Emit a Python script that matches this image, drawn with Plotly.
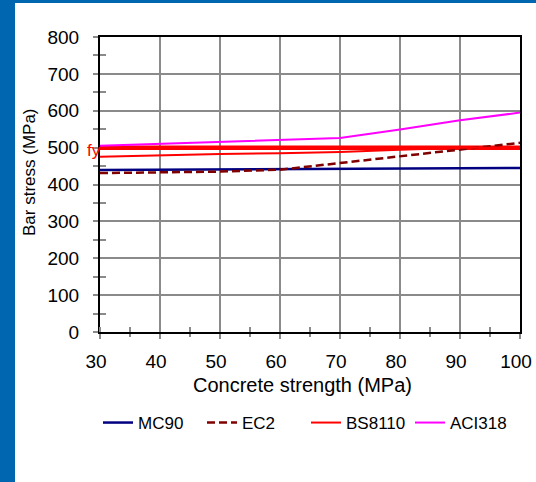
import plotly.graph_objects as go

# Concrete strength (MPa) and the limiting bar stress (MPa) from each code
strength = [30, 40, 50, 60, 70, 80, 90, 100]
mc90 = [439, 440, 441, 442, 444, 445, 445, 445]
ec2 = [431, 433, 435, 440, 458, 478, 494, 513]
bs8110 = [475, 480, 483, 485, 488, 494, 500, 500]
aci318 = [505, 510, 514, 519, 526, 549, 574, 595]
fy = 500  # characteristic yield strength of the bar

x_ticks = [30, 40, 50, 60, 70, 80, 90, 100]
y_ticks = [0, 100, 200, 300, 400, 500, 600, 700, 800]

FONT = "Liberation Sans, Arial, sans-serif"
FRAME_BLUE = "#0066B0"
GRID = "#8a8a8a"

# plot-area geometry in pixels (used to place free text)
W, H = 536, 482
ML, MR, MT, MB = 100, 16, 37, 150
PW, PH = W - ML - MR, H - MT - MB


def px_x(px):
    return (px - ML) / PW


def px_y(py):
    return (H - MB - py) / PH


fig = go.Figure()

fig.add_trace(go.Scatter(x=[strength[0], strength[-1]], y=[fy, fy], mode="lines",
                         line=dict(color="#ff0000", width=4.5), showlegend=False,
                         hoverinfo="skip"))
fig.add_trace(go.Scatter(x=strength, y=mc90, mode="lines", name="MC90",
                         line=dict(color="#000080", width=2.5)))
fig.add_trace(go.Scatter(x=strength, y=ec2, mode="lines", name="EC2",
                         line=dict(color="#800000", width=2.5, dash="8px,4px")))
fig.add_trace(go.Scatter(x=strength, y=bs8110, mode="lines", name="BS8110",
                         line=dict(color="#ff0000", width=2)))
fig.add_trace(go.Scatter(x=strength, y=aci318, mode="lines", name="ACI318",
                         line=dict(color="#ff00ff", width=2)))
# empty trace that carries the overlay axes used for inward tick marks
fig.add_trace(go.Scatter(x=[], y=[], xaxis="x2", yaxis="y2", showlegend=False,
                         hoverinfo="skip"))

tick_style = dict(tickcolor=GRID, tickwidth=2)

fig.update_layout(
    width=W, height=H,
    margin=dict(l=ML, r=MR, t=MT, b=MB, autoexpand=False),
    paper_bgcolor=FRAME_BLUE,
    plot_bgcolor="white",
    font=dict(family=FONT, color="black"),
    xaxis=dict(range=[30, 100], tickvals=x_ticks, showgrid=True, gridcolor=GRID,
               gridwidth=1.5, zeroline=False, showline=True, linecolor="black",
               linewidth=2, mirror=True, ticks="outside", ticklen=5,
               tickfont=dict(size=19), ticklabelshift=-4, ticklabelstandoff=6,
               minor=dict(ticks="outside", ticklen=3, dtick=5, tick0=0,
                          showgrid=False, **tick_style),
               **tick_style),
    yaxis=dict(range=[0, 800], tickvals=y_ticks, showgrid=True, gridcolor=GRID,
               gridwidth=1.5, zeroline=False, showline=True, linecolor="black",
               linewidth=2, mirror=True, ticks="outside", ticklen=5,
               tickfont=dict(size=19), ticklabelstandoff=10,
               minor=dict(ticks="outside", ticklen=5, dtick=50, tick0=0,
                          showgrid=False, **tick_style),
               **tick_style),
    xaxis2=dict(range=[30, 100], overlaying="x", anchor="y", side="bottom",
                showgrid=False, zeroline=False, showline=False, ticks="",
                showticklabels=False,
                minor=dict(ticks="inside", ticklen=5, dtick=5, tick0=0,
                           showgrid=False, **tick_style)),
    yaxis2=dict(range=[0, 800], overlaying="y", anchor="x", side="left",
                showgrid=False, zeroline=False, showline=False, ticks="",
                showticklabels=False,
                minor=dict(ticks="inside", ticklen=6, dtick=50, tick0=0,
                           showgrid=False, **tick_style)),
    legend=dict(orientation="h", x=px_x(98), xanchor="left", y=px_y(423),
                yanchor="middle", font=dict(size=17), entrywidth=59,
                entrywidthmode="pixels", bgcolor="rgba(0,0,0,0)",
                itemwidth=30, tracegroupgap=0),
    showlegend=True,
)

# white chart area inside the blue frame
fig.add_shape(type="rect", xref="paper", yref="paper", layer="below",
              x0=px_x(15), x1=px_x(W + 10), y0=px_y(H + 10), y1=px_y(3),
              fillcolor="white", line=dict(width=0))

fig.add_annotation(text="Bar stress (MPa)", textangle=-90, xref="paper", yref="paper",
                   x=px_x(29), y=px_y(172), xanchor="center", yanchor="middle",
                   showarrow=False, font=dict(size=17))
fig.add_annotation(text="Concrete strength (MPa)", xref="paper", yref="paper",
                   x=px_x(302), y=px_y(385), xanchor="center", yanchor="middle",
                   showarrow=False, font=dict(size=20))
fig.add_annotation(text="fy", xref="paper", yref="y", x=px_x(103), y=fy,
                   xanchor="right", yanchor="middle", yshift=-3,
                   showarrow=False, font=dict(size=17, color="#ff0000"))

fig.write_html("out.html")
